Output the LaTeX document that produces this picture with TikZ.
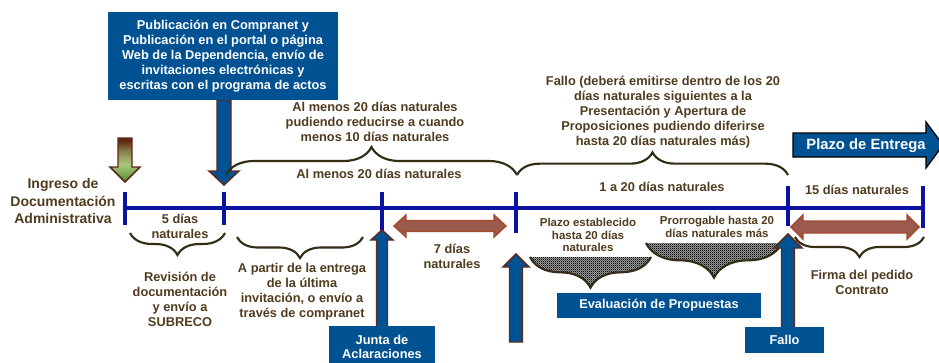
\documentclass[tikz,border=0pt]{standalone}
\usepackage{fontspec}
\setmainfont{Liberation Sans}
\usetikzlibrary{decorations.pathreplacing,patterns}
\definecolor{txtc}{RGB}{80,60,30}
\definecolor{bracec}{RGB}{50,45,20}
\definecolor{tlblue}{RGB}{10,20,160}
\definecolor{boxblue}{RGB}{0,82,147}
\definecolor{arrbord}{RGB}{95,40,25}
\definecolor{dblfill}{RGB}{155,90,75}
\definecolor{dblmid}{RGB}{185,135,120}
\definecolor{dblbord}{RGB}{165,75,50}
\definecolor{gtop}{RGB}{95,40,20}
\definecolor{gmid}{RGB}{170,200,125}
\definecolor{gbot}{RGB}{75,140,45}
\pgfdeclareverticalshading{greenarr}{100bp}{color(0bp)=(gbot); color(25bp)=(gbot); color(45bp)=(gmid); color(60bp)=(gmid!55!gtop); color(72bp)=(gtop); color(100bp)=(gtop)}
\pgfdeclarepatternformonly{fchk}{\pgfpointorigin}{\pgfqpoint{1.6pt}{1.6pt}}{\pgfqpoint{1.6pt}{1.6pt}}{%
  \pgfpathrectangle{\pgfpointorigin}{\pgfqpoint{0.8pt}{0.8pt}}%
  \pgfpathrectangle{\pgfqpoint{0.8pt}{0.8pt}}{\pgfqpoint{0.8pt}{0.8pt}}%
  \pgfusepath{fill}}
% vertical fat arrow: x, shaft end y, head base y, tip y, half shaft, half head, style
\newcommand{\vfat}[7]{\path[#7] ({#1-#5},#2) -- ({#1-#5},#3) -- ({#1-#6},#3) -- (#1,#4) -- ({#1+#6},#3) -- ({#1+#5},#3) -- ({#1+#5},#2) -- cycle;}
% horizontal double arrow: x1, x2, yc, half body, half head, head length, style
\newcommand{\hdbl}[7]{\path[#7] (#1,#3) -- ({#1+#6},{#3-#5}) -- ({#1+#6},{#3-#4}) -- ({#2-#6},{#3-#4}) -- ({#2-#6},{#3-#5}) -- (#2,#3) -- ({#2-#6},{#3+#5}) -- ({#2-#6},{#3+#4}) -- ({#1+#6},{#3+#4}) -- ({#1+#6},{#3+#5}) -- cycle;}
\tikzset{
  lbl/.style={text=txtc, font=\bfseries\fontsize{9.6}{11.3}\selectfont, align=center, inner sep=0pt},
  small/.style={lbl, font=\bfseries\fontsize{8.6}{9.4}\selectfont},
  boxw/.style={fill=boxblue, text=white, font=\bfseries\fontsize{9.6}{11.3}\selectfont, align=center, inner sep=0pt},
  wtxt/.style={text=white, font=\bfseries\fontsize{9.6}{10.6}\selectfont, align=center, inner sep=0pt},
  brc/.style={draw=bracec, line width=1.6pt, decorate, decoration={brace, amplitude=#1}},
  mbrc/.style={draw=bracec, line width=1.6pt, decorate, decoration={brace, mirror, amplitude=#1}},
  mbrcfill/.style={decorate, decoration={brace, mirror, amplitude=#1}, fill=black!35},
  mbrcpat/.style={decorate, decoration={brace, mirror, amplitude=#1}, pattern=fchk, pattern color=black},
  fatblue/.style={fill=boxblue, draw=arrbord, line width=1.1pt},
  fatgreen/.style={shading=greenarr, draw=arrbord, line width=1.1pt},
  dbl/.style={top color=dblfill, middle color=dblmid, bottom color=dblfill, draw=dblbord, line width=1.1pt},
  tick/.style={draw=tlblue, line width=3pt},
}
\begin{document}
\begin{tikzpicture}[x=0.75pt,y=-0.75pt]
\clip (0,0) rectangle (939,362);
\fill[white] (0,0) rectangle (939,362);

% timeline
\coordinate (t0) at (125,208);
\coordinate (t5) at (923,208);
\draw[draw=tlblue, line width=3.3pt] (t0) -- (t5);
\draw[tick] (125,192) -- (125,225);
\draw[tick] (224,192) -- (224,225);
\draw[tick] (382,192) -- (382,233);
\draw[tick] (516,192) -- (516,233);
\draw[tick] (788,186) -- (788,226);
\draw[tick] (923,186) -- (923,228);

% left title
\node[lbl, font=\bfseries\fontsize{10.5}{12.8}\selectfont] (ingreso) at (63,201) {Ingreso de\\Documentación\\Administrativa};

% green arrow
\vfat{125}{138}{167}{182}{7}{15}{fatgreen}

% publication box and arrow
\vfat{224}{100}{171}{185}{7}{15}{fatblue}
\node[boxw, minimum width=172.5pt, minimum height=66pt] (pub) at (223,56) {Publicación en Compranet y\\Publicación en el portal o página\\Web de la Dependencia, envío de\\invitaciones electrónicas y\\escritas con el programa de actos};

% top braces
\draw[brc=21pt] (226,175) -- (517,175);
\draw[brc=17pt] (517,175) -- (788,175);
\node[lbl] (t1) at (375,122) {Al menos 20 días naturales\\pudiendo reducirse a cuando\\menos 10 días naturales};
\node[lbl] (t2) at (379,174) {Al menos 20 días naturales};
\node[lbl] (t3) at (663,112) {Fallo (deberá emitirse dentro de los 20\\días naturales siguientes a la\\Presentación y Apertura de\\Proposiciones pudiendo diferirse\\hasta 20 días naturales más)};
\node[lbl] (t4) at (662,187) {1 a 20 días naturales};

% plazo de entrega
\path[fill=boxblue, draw=black, line width=1pt] (793,133) -- (926,133) -- (926,122) -- (943,145) -- (926,168) -- (926,157) -- (793,157) -- cycle;
\node[boxw, font=\bfseries\fontsize{11.1}{13}\selectfont] (plazo) at (866,146) {Plazo de Entrega};
\node[lbl] (t15) at (857,190) {15 días naturales};

% bottom left braces and texts
\draw[mbrc=16.5pt] (130,233) -- (225,233);
\node[lbl] (t5d) at (180,226) {5 días\\naturales};
\node[lbl] (rev) at (180,299) {Revisión de\\documentación\\y envío a\\SUBRECO};
\draw[mbrc=15.75pt] (237,237) -- (363,237);
\node[lbl] (apartir) at (302,292) {A partir de la entrega\\de la última\\invitación, o envío a\\través de compranet};

% junta
\vfat{382}{330}{240}{230}{5.5}{11}{fatblue}
\node[fill=boxblue, inner sep=0pt, minimum width=79.5pt, minimum height=36pt] (junta) at (382,350) {};
\node[wtxt] (juntatxt) at (382,347) {Junta de\\Aclaraciones};

% 7 dias
\hdbl{394}{506}{226}{5.5}{11}{12}{dbl}
\node[lbl] (t7) at (452,256) {7 días\\naturales};

% arrow at 516
\vfat{516}{342}{267}{254}{6.5}{13}{fatblue}

% patterned braces
\path[mbrcfill=23pt] (530,257) -- (651,257);
\path[mbrcpat=23pt] (530,257) -- (651,257);
\draw[mbrc=23pt] (530,257) -- (651,257);
\path[mbrcfill=26pt] (646,243) -- (782,243);
\path[mbrcpat=26pt] (646,243) -- (782,243);
\draw[mbrc=26pt] (646,243) -- (782,243);
\node[small] (pe) at (588,235) {Plazo establecido\\hasta 20 días\\naturales};
\node[small] (pr) at (717,227) {Prorrogable hasta 20\\días naturales más};
\node[boxw, minimum width=153pt, minimum height=18.75pt] (eval) at (659,305.5) {Evaluación de Propuestas};

% fallo
\draw[mbrc=15pt] (795,237) -- (924,237);
\hdbl{791}{919}{227}{6}{12}{12}{dbl}
\vfat{788}{330}{248}{234}{6.5}{14}{fatblue}
\node[boxw, minimum width=59.25pt, minimum height=19.5pt] (fallo) at (784.5,340) {Fallo};
\node[lbl] (firma) at (862,282) {Firma del pedido\\Contrato};
\end{tikzpicture}
\end{document}
